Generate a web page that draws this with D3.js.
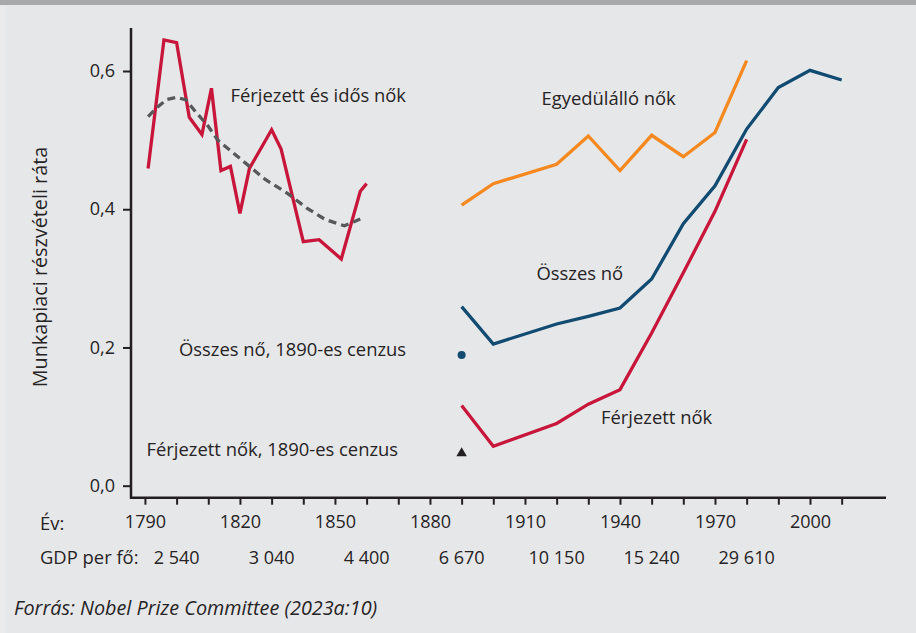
<!DOCTYPE html>
<html>
<head>
<meta charset="utf-8">
<script src="https://cdn.jsdelivr.net/npm/d3@7"></script>
<style>
	body { margin: 0; background: #e6e7e9; }
	svg { display: block; }
	text { font-family: "Open Sans", sans-serif; fill: #262324; }
</style>
</head>
<body>
<div id="chart"></div>
<script>
// Férjezett és idős nők (korai adatok)
var earlyYears = [1791, 1796, 1800, 1804, 1808, 1811, 1814, 1817, 1820, 1823, 1830, 1833, 1840, 1845, 1852, 1858, 1860];
var earlyValues = [0.459, 0.645, 0.641, 0.533, 0.508, 0.575, 0.456, 0.462, 0.394, 0.459, 0.515, 0.487, 0.353, 0.356, 0.328, 0.426, 0.437];
// simított trend (szaggatott)
var trendYears = [1791, 1794, 1797, 1800, 1803, 1806, 1810, 1813, 1818, 1823, 1828, 1835, 1841, 1847, 1853, 1856, 1858];
var trendValues = [0.534, 0.548, 0.559, 0.562, 0.558, 0.541, 0.520, 0.500, 0.481, 0.462, 0.443, 0.423, 0.402, 0.385, 0.376, 0.382, 0.386];

var singleYears = [1890, 1900, 1920, 1930, 1940, 1950, 1960, 1970, 1980];
var singleValues = [0.406, 0.437, 0.465, 0.506, 0.456, 0.507, 0.476, 0.511, 0.615];

var allYears = [1890, 1900, 1920, 1930, 1940, 1950, 1960, 1970, 1980, 1990, 2000, 2010];
var allValues = [0.259, 0.205, 0.234, 0.245, 0.257, 0.299, 0.379, 0.434, 0.516, 0.576, 0.601, 0.587];

var marriedYears = [1890, 1900, 1920, 1930, 1940, 1950, 1960, 1970, 1980];
var marriedValues = [0.116, 0.057, 0.090, 0.118, 0.139, 0.221, 0.308, 0.397, 0.501];

var census1890 = {year: 1890, all: 0.189, married: 0.047};

var gdpYears = [1800, 1830, 1860, 1890, 1920, 1950, 1980];
var gdpLabels = ["2 540", "3 040", "4 400", "6 670", "10 150", "15 240", "29 610"];
var yTicks = [0, 0.2, 0.4, 0.6];

var width = 916, height = 633;
var red = "#c8163a", orange = "#f5891f", navy = "#124b72", grey = "#58585a";

var svg = d3.select("#chart").append("svg")
	.attr("width", width)
	.attr("height", height);

svg.append("rect").attr("width", width).attr("height", height).attr("fill", "#e6e7e9");
svg.append("rect").attr("width", width).attr("height", 5).attr("fill", "#a8a9ab");
svg.append("rect").attr("y", 5).attr("width", 5).attr("height", height - 5).attr("fill", "#ebebec");

var x = d3.scaleLinear().domain([1785.6, 2024]).range([131, 886]);
var y = d3.scaleLinear().domain([0, 0.6]).range([485.7, 71]);
var axisY = 497.7;

// tengelyek
var yAxis = svg.append("g")
	.attr("transform", "translate(131,0)")
	.call(d3.axisLeft(y).tickValues(yTicks).tickSize(8).tickPadding(8)
		.tickFormat(function(d){ return d3.format(".1f")(d).replace(".", ","); }));
yAxis.select(".domain").remove();
yAxis.selectAll("line").attr("stroke", "#231f20").attr("stroke-width", 2);
yAxis.selectAll("text").style("font-size", "18px").attr("fill", "#262324");

var xAxis = svg.append("g")
	.attr("transform", "translate(0," + axisY + ")")
	.call(d3.axisBottom(x).tickValues(d3.range(1790, 2011, 10)).tickSize(7).tickPadding(11)
		.tickFormat(function(d){ return (d - 1790) % 30 == 0 ? d : ""; }));
xAxis.select(".domain").remove();
xAxis.selectAll("line").attr("stroke", "#231f20").attr("stroke-width", 2);
xAxis.selectAll("text").style("font-size", "18px").attr("fill", "#262324");

svg.append("line")
	.attr("x1", 131).attr("x2", 131).attr("y1", 28).attr("y2", axisY + 1)
	.attr("stroke", "#231f20").attr("stroke-width", 2.5);
svg.append("line")
	.attr("x1", 130).attr("x2", 886).attr("y1", axisY).attr("y2", axisY)
	.attr("stroke", "#231f20").attr("stroke-width", 2.5);

svg.append("text")
	.attr("transform", "translate(46.5,267) rotate(-90)")
	.attr("text-anchor", "middle")
	.style("font-size", "19.8px")
	.text("Munkapiaci részvételi ráta");

svg.append("text").attr("x", 40).attr("y", 530).style("font-size", "18.4px").text("Év:");
svg.append("text").attr("x", 40).attr("y", 563.5).style("font-size", "18.4px").text("GDP per fő:");
svg.selectAll(".gdp").data(gdpYears).enter()
	.append("text")
	.classed("gdp", true)
	.attr("x", function(d){ return x(d); })
	.attr("y", 563.5)
	.attr("text-anchor", "middle")
	.style("font-size", "18px")
	.text(function(d, i){ return gdpLabels[i]; });

// vonalak
function drawLine(years, values, color, dash) {
	var line = d3.line()
		.x(function(d, i){ return x(years[i]); })
		.y(function(d){ return y(d); });
	svg.append("path")
		.datum(values)
		.attr("d", line)
		.attr("fill", "none")
		.attr("stroke", color)
		.attr("stroke-width", 3.3)
		.attr("stroke-linejoin", "miter")
		.attr("stroke-dasharray", dash || null);
}

drawLine(earlyYears, earlyValues, red);
drawLine(trendYears, trendValues, grey, "8,5");
drawLine(singleYears, singleValues, orange);
drawLine(allYears, allValues, navy);
drawLine(marriedYears, marriedValues, red);

svg.append("circle")
	.attr("cx", x(census1890.year)).attr("cy", y(census1890.all))
	.attr("r", 4).attr("fill", navy);
svg.append("path")
	.attr("transform", "translate(" + x(census1890.year) + "," + y(census1890.married) + ")")
	.attr("d", d3.symbol().type(d3.symbolTriangle).size(48))
	.attr("fill", "#231f20");

// feliratok
var labels = [
	{t: "Férjezett és idős nők", x: 230.5, y: 96},
	{t: "Egyedülálló nők", x: 541.5, y: 98.5},
	{t: "Összes nő", x: 536.5, y: 273.5},
	{t: "Férjezett nők", x: 601, y: 418},
	{t: "Összes nő, 1890-es cenzus", x: 179, y: 349.5},
	{t: "Férjezett nők, 1890-es cenzus", x: 146.5, y: 449.5}
];
svg.selectAll(".lbl").data(labels).enter()
	.append("text")
	.classed("lbl", true)
	.attr("x", function(d){ return d.x; })
	.attr("y", function(d){ return d.y; })
	.attr("dy", "0.35em")
	.style("font-size", "18.4px")
	.text(function(d){ return d.t; });

svg.append("text")
	.attr("x", 14).attr("y", 615)
	.style("font-size", "19.8px")
	.style("font-style", "italic")
	.text("Forrás: Nobel Prize Committee (2023a:10)");
</script>
</body>
</html>
